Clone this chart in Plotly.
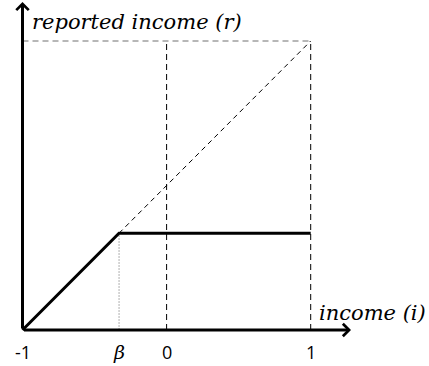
import plotly.graph_objects as go

# ---- data ----
beta = -0.33
tick_values = [-1, beta, 0, 1]
tick_labels = ["-1", "β", "0", "1"]
solid_x = [-1, beta, 1]
solid_y = [-1, beta, beta]
diag_x = [beta, 1]
diag_y = [beta, 1]
vert_dash_x = [0, 1]
x_label = "income (i)"
y_label = "reported income (r)"

# pixel-to-data mapping
x0_px, x1_px = 22.5, 310.7
y0_px, y1_px = 330.0, 41.0
sx = (x1_px - x0_px) / 2.0
sy = (y0_px - y1_px) / 2.0
W, H = 429, 366
xr = [-1 - x0_px / sx, -1 + (W - x0_px) / sx]
yr = [-1 - (H - y0_px) / sy, -1 + y0_px / sy]

fig = go.Figure()

# dashed diagonal
fig.add_trace(go.Scatter(x=diag_x, y=diag_y, mode="lines",
                         line=dict(color="black", width=1, dash="5px,4px"),
                         hoverinfo="skip", showlegend=False))
# solid reporting function
fig.add_trace(go.Scatter(x=solid_x, y=solid_y, mode="lines",
                         line=dict(color="black", width=3),
                         hoverinfo="skip", showlegend=False))

shapes = []
# top horizontal dashed (gray)
shapes.append(dict(type="line", x0=-1, x1=1, y0=1, y1=1, xref="x", yref="y",
                   line=dict(color="#707070", width=1.2, dash="6px,4px"), layer="below"))
for vx in vert_dash_x:
    shapes.append(dict(type="line", x0=vx, x1=vx, y0=-1, y1=1, xref="x", yref="y",
                       line=dict(color="black", width=1, dash="6px,4px"), layer="below"))
# dotted gray at beta
shapes.append(dict(type="line", x0=beta, x1=beta, y0=-1, y1=beta, xref="x", yref="y",
                   line=dict(color="#b0b0b0", width=1, dash="2px,1px"), layer="below"))

annotations = []
# axes with arrows
x_tip = -1 + (351 - x0_px) / sx
y_tip = -1 + (y0_px - 2) / sy
annotations.append(dict(x=x_tip, y=-1, ax=-1, ay=-1, xref="x", yref="y", axref="x", ayref="y",
                        text="", showarrow=True, arrowhead=4, arrowsize=0.8, arrowwidth=3,
                        arrowcolor="black"))
annotations.append(dict(x=-1, y=y_tip, ax=-1, ay=-1, xref="x", yref="y", axref="x", ayref="y",
                        text="", showarrow=True, arrowhead=4, arrowsize=0.8, arrowwidth=3,
                        arrowcolor="black"))

lab_y = -1 - 22 / sy
for v, t in zip(tick_values, tick_labels):
    if t == "β":
        font = dict(family="DejaVu Serif", size=19, color="black")
        t = "<i>β</i>"
    else:
        font = dict(family="Open Sans", size=18, color="black")
    annotations.append(dict(x=v, y=lab_y, text=t, showarrow=False, xanchor="center",
                            yanchor="middle", font=font))

annotations.append(dict(x=-1 + (317 - x0_px) / sx, y=-1 + 17 / sy, text="<i>" + x_label + "</i>",
                        showarrow=False, xanchor="left", yanchor="middle",
                        font=dict(family="DejaVu Serif", size=21, color="black")))
annotations.append(dict(x=-1 + (30 - x0_px) / sx, y=-1 + (y0_px - 22) / sy, text="<i>" + y_label + "</i>",
                        showarrow=False, xanchor="left", yanchor="middle",
                        font=dict(family="DejaVu Serif", size=21, color="black")))

fig.update_layout(
    width=W, height=H, autosize=False,
    margin=dict(l=0, r=0, t=0, b=0),
    paper_bgcolor="white", plot_bgcolor="white",
    xaxis=dict(range=xr, visible=False, fixedrange=True),
    yaxis=dict(range=yr, visible=False, fixedrange=True),
    shapes=shapes, annotations=annotations,
)

fig.write_html("out.html", config={"displayModeBar": False},
               post_script="document.body.style.margin='0';document.body.style.overflow='hidden';")
